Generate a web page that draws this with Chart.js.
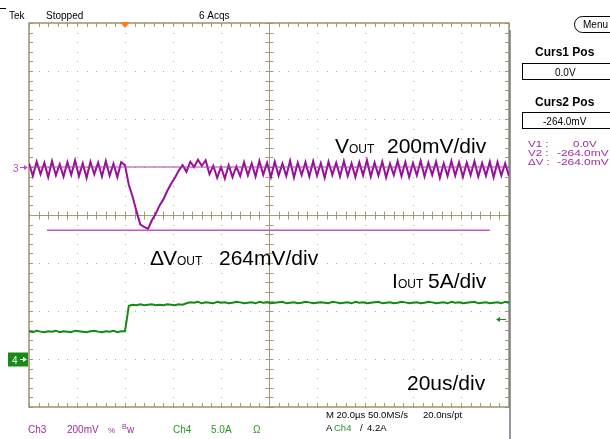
<!DOCTYPE html>
<html>
<head>
<meta charset="utf-8">
<script src="https://cdn.jsdelivr.net/npm/chart.js@4.4.1/dist/chart.umd.min.js"></script>
<style>
html,body{margin:0;padding:0;background:#fff;}
canvas{display:block;}
</style>
</head>
<body>
<canvas id="myChart" width="610" height="439"></canvas>
<script>
// sample clock (us): first sample and sample period
const t0 = -40;
const dt = 1.6;

// Ch3 : Vout (mV), 200mV/div
const vout = [
  15,-38,22,-30,18,-42,25,-35,12,-40,20,-33,28,-38,15,-45,22,-30,18,-40,25,-36,14,-42,20,
  8,
  -75,-125,-185,-240,-250,-258,-222,-195,-160,-135,-100,-70,-45,-15,8,-20,22,0,30,5,28,-30,
  5,-45,0,-48,8,-42,2,
  -38,20,-35,15,-40,25,-32,18,-42,22,-36,14,-38,26,-44,18,-34,20,-40,24,
  -36,16,-45,22,-33,18,-40,25,-38,15,-42,20,-35,28,-40,18,-36,22,-44,14,
  -34,24,-38,20,-42,16,-35,26,-40,18,-33,22,-45,15,-38,25,-36,20,-42,18,
  -34,24,-40,16,-37,22,-43,20,-36,15,-38
];

// Ch4 : Iout (A), 5A/div
const iout = [
  2.9,2.8,2.95,2.85,2.8,2.9,2.85,2.95,2.8,2.9,2.85,2.8,2.95,2.9,2.85,2.8,2.9,2.95,2.85,2.8,2.9,2.85,2.95,2.8,2.9,
  2.9,
  5.55,5.65,5.6,5.7,5.6,5.65,5.7,5.6,5.65,5.6,5.7,5.65,5.6,5.7,5.65,
  5.8,5.9,5.85,5.95,5.8,5.9,5.85,5.8,5.95,5.85,5.9,5.8,5.85,5.95,5.9,5.8,5.85,5.9,5.8,5.95,
  5.85,5.9,5.8,5.85,5.9,5.95,5.8,5.85,5.9,5.8,5.85,5.95,5.9,5.8,5.85,5.9,5.85,5.8,5.95,5.9,
  5.8,5.85,5.9,5.8,5.95,5.85,5.9,5.8,5.85,5.9,5.95,5.8,5.85,5.9,5.8,5.85,5.95,5.9,5.8,5.85,
  5.9,5.8,5.85,5.95,5.9,5.8,5.85,5.9,5.8,5.95,5.85,5.9,5.8,5.85,5.9,5.95,5.8,5.85,5.9,5.8,
  5.85,5.9,5.8,5.95,5.85
];

// cursors (mV) and their horizontal extent (us)
const cursLevels = [0, -264];
const curs1Span = [-40, 160];
const curs2Span = [-32.5, 152];

// trigger level (A)
const trigLevel = 4.2;

// axis ranges: 10 x 20us, 8 x 200mV, 8 x 5A
const xRange = [-40, 160];
const ch3Range = [-1000, 600];
const ch4Range = [-5, 35];

const F = '"Liberation Sans", Arial, sans-serif';
const PURPLE = '#a02aa0';
const GREEN = '#2a962a';

function txt(ctx, s, px, py, font, color, sx) {
  ctx.save();
  ctx.font = font;
  ctx.fillStyle = color;
  ctx.translate(px, py);
  ctx.scale(sx || 1, 1);
  ctx.fillText(s, 0, 0);
  ctx.restore();
}

const scopeGrid = {
  id: 'scopeGrid',
  beforeDatasetsDraw(chart) {
    const {ctx, chartArea: a, scales: {x, y3}} = chart;
    ctx.save();
    // dotted graticule
    ctx.fillStyle = '#b5ad8a';
    for (let t = -20; t < 160; t += 20) {
      if (t === 60) continue;
      const px = Math.round(x.getPixelForValue(t));
      for (let v = -1000; v <= 600; v += 40) {
        ctx.fillRect(px, Math.round(y3.getPixelForValue(v)), 1, 1);
      }
    }
    for (let v = -800; v < 600; v += 200) {
      if (v === -200) continue;
      const py = Math.round(y3.getPixelForValue(v));
      for (let t = -40; t <= 160; t += 4) {
        ctx.fillRect(Math.round(x.getPixelForValue(t)), py, 1, 1);
      }
    }
    // centre cross + edge ticks
    ctx.strokeStyle = '#a39b72';
    ctx.lineWidth = 1;
    const cx = Math.round(x.getPixelForValue(60)) + 0.5;
    const cy = Math.round(y3.getPixelForValue(-200)) + 0.5;
    ctx.beginPath();
    ctx.moveTo(cx, a.top); ctx.lineTo(cx, a.bottom);
    ctx.moveTo(a.left, cy); ctx.lineTo(a.right, cy);
    for (let t = -40; t <= 160; t += 4) {
      const px = Math.round(x.getPixelForValue(t)) + 0.5;
      ctx.moveTo(px, cy - 4); ctx.lineTo(px, cy + 4);
      ctx.moveTo(px, a.top); ctx.lineTo(px, a.top + 4);
      ctx.moveTo(px, a.bottom); ctx.lineTo(px, a.bottom - 4);
    }
    for (let v = -1000; v <= 600; v += 40) {
      const py = Math.round(y3.getPixelForValue(v)) + 0.5;
      ctx.moveTo(cx - 4, py); ctx.lineTo(cx + 4, py);
      ctx.moveTo(a.left, py); ctx.lineTo(a.left + 4, py);
      ctx.moveTo(a.right, py); ctx.lineTo(a.right - 4, py);
    }
    ctx.stroke();
    ctx.lineWidth = 1.5;
    ctx.strokeStyle = '#9b936a';
    ctx.strokeRect(a.left, a.top, a.width, a.height);
    // right frame of the screen
    ctx.strokeStyle = '#6f7780';
    ctx.beginPath();
    ctx.moveTo(a.right + 1, 30); ctx.lineTo(a.right + 1, 439);
    ctx.stroke();
    ctx.restore();
  },
  afterDraw(chart) {
    const {ctx, scales: {x, y3, y4}} = chart;
    ctx.save();
    ctx.textBaseline = 'alphabetic';
    // top status line
    ctx.fillStyle = '#000';
    ctx.fillRect(0, 8, 6, 1);
    txt(ctx, 'Tek', 9, 19, '10px ' + F, '#000');
    txt(ctx, 'Stopped', 46, 19, '10px ' + F, '#000');
    txt(ctx, '6 Acqs', 199, 19, '10px ' + F, '#000');
    // trigger position marker
    const tx = x.getPixelForValue(0);
    ctx.fillStyle = '#ff7a22';
    ctx.beginPath();
    ctx.moveTo(tx - 5, 22); ctx.lineTo(tx + 5, 22); ctx.lineTo(tx, 28); ctx.closePath();
    ctx.fill();

    // Ch3 ground marker
    const g3 = Math.round(y3.getPixelForValue(0)) + 0.5;
    txt(ctx, '3', 13, g3 + 4, '10px ' + F, '#c04ac0');
    ctx.strokeStyle = '#c04ac0'; ctx.fillStyle = '#c04ac0'; ctx.lineWidth = 1;
    ctx.beginPath(); ctx.moveTo(20, g3); ctx.lineTo(26, g3); ctx.stroke();
    ctx.beginPath(); ctx.moveTo(28, g3); ctx.lineTo(24, g3 - 2.5); ctx.lineTo(24, g3 + 2.5); ctx.closePath(); ctx.fill();

    // Ch4 ground marker
    const g4 = Math.round(y4.getPixelForValue(0)) + 0.5;
    ctx.fillStyle = '#178a17';
    ctx.fillRect(8, g4 - 7, 20, 14);
    txt(ctx, '4', 12, g4 + 4, '10px ' + F, '#fff');
    ctx.strokeStyle = '#fff'; ctx.fillStyle = '#fff';
    ctx.beginPath(); ctx.moveTo(20, g4); ctx.lineTo(25, g4); ctx.stroke();
    ctx.beginPath(); ctx.moveTo(27, g4); ctx.lineTo(23, g4 - 2.5); ctx.lineTo(23, g4 + 2.5); ctx.closePath(); ctx.fill();

    // trigger level arrow
    const tl = Math.round(y4.getPixelForValue(trigLevel)) + 0.5;
    ctx.strokeStyle = '#178a17'; ctx.fillStyle = '#178a17';
    ctx.beginPath(); ctx.moveTo(499, tl); ctx.lineTo(506, tl); ctx.stroke();
    ctx.beginPath(); ctx.moveTo(496, tl); ctx.lineTo(500, tl - 2.5); ctx.lineTo(500, tl + 2.5); ctx.closePath(); ctx.fill();

    // annotations
    const big = '21px ' + F, sub = '12px ' + F;
    txt(ctx, 'V', 335, 153, big, '#000');
    txt(ctx, 'OUT', 349, 153, sub, '#000');
    txt(ctx, '200mV/div', 387, 153, big, '#000');
    txt(ctx, '\u0394', 150, 265, big, '#000');
    txt(ctx, 'V', 163, 265, big, '#000');
    txt(ctx, 'OUT', 177, 265, sub, '#000');
    txt(ctx, '264mV/div', 219, 265, big, '#000');
    txt(ctx, 'I', 392, 288, big, '#000');
    txt(ctx, 'OUT', 398, 288, sub, '#000');
    txt(ctx, '5A/div', 428, 288, big, '#000');
    txt(ctx, '20us/div', 407, 390, big, '#000');

    // side menu
    ctx.strokeStyle = '#000'; ctx.lineWidth = 1;
    ctx.beginPath(); ctx.roundRect(574.5, 16.5, 44, 16, 8); ctx.stroke();
    txt(ctx, 'Menu', 583, 28, '10px ' + F, '#000');
    txt(ctx, 'Curs1 Pos', 535, 56, 'bold 12px ' + F, '#000');
    ctx.strokeRect(522.5, 63.5, 92, 16);
    txt(ctx, '0.0V', 555, 76, '10px ' + F, '#000');
    txt(ctx, 'Curs2 Pos', 535, 106, 'bold 12px ' + F, '#000');
    ctx.strokeRect(522.5, 112.5, 92, 16);
    txt(ctx, '-264.0mV', 543, 125, '10px ' + F, '#000');
    const sm = '8.5px ' + F;
    txt(ctx, 'V1 :', 528, 147, sm, PURPLE, 1.35);
    txt(ctx, '0.0V', 573, 147, sm, PURPLE, 1.35);
    txt(ctx, 'V2 :', 528, 156, sm, PURPLE, 1.35);
    txt(ctx, '-264.0mV', 557, 156, sm, PURPLE, 1.4);
    txt(ctx, '\u0394V :', 528, 165, sm, PURPLE, 1.35);
    txt(ctx, '-264.0mV', 557, 165, sm, PURPLE, 1.4);

    // bottom status
    const st = '10px ' + F;
    txt(ctx, 'Ch3', 28, 433, st, PURPLE);
    txt(ctx, '200mV', 67, 433, st, PURPLE);
    txt(ctx, '%', 108, 433, '8px ' + F, PURPLE);
    txt(ctx, 'B', 122, 429, '7px ' + F, PURPLE);
    txt(ctx, 'w', 127, 433, st, PURPLE);
    txt(ctx, 'Ch4', 173, 433, st, GREEN);
    txt(ctx, '5.0A', 211, 433, st, GREEN);
    txt(ctx, '\u03a9', 253, 433, st, GREEN);
    const st2 = '9.5px ' + F;
    txt(ctx, 'M 20.0\u00b5s 50.0MS/s', 326, 418, st2, '#000');
    txt(ctx, '20.0ns/pt', 423, 418, st2, '#000');
    txt(ctx, 'A', 326, 431, st2, '#000');
    txt(ctx, 'Ch4', 334, 431, st2, GREEN);
    txt(ctx, '/', 360, 431, st2, '#000');
    txt(ctx, '4.2A', 367, 431, st2, '#000');
    ctx.restore();
  }
};

const toPoints = (vals) => vals.map((v, i) => ({x: t0 + i * dt, y: v}));

const ctx = document.getElementById('myChart').getContext('2d');
const myChart = new Chart(ctx, {
  type: 'line',
  data: {
    datasets: [
      {
        label: 'Curs1',
        data: curs1Span.map(t => ({x: t, y: cursLevels[0]})),
        yAxisID: 'y3',
        borderColor: '#a040a0',
        borderWidth: 1,
        pointRadius: 0
      },
      {
        label: 'Curs2',
        data: curs2Span.map(t => ({x: t, y: cursLevels[1]})),
        yAxisID: 'y3',
        borderColor: '#c455c4',
        borderWidth: 1.5,
        pointRadius: 0
      },
      {
        label: 'Ch3',
        data: toPoints(vout),
        yAxisID: 'y3',
        borderColor: '#9a0f9a',
        borderWidth: 2,
        pointRadius: 0,
        tension: 0
      },
      {
        label: 'Ch4',
        data: toPoints(iout),
        yAxisID: 'y4',
        borderColor: '#138a13',
        borderWidth: 2,
        pointRadius: 0,
        tension: 0
      }
    ]
  },
  options: {
    responsive: false,
    animation: false,
    layout: { padding: { left: 29, right: 101, top: 23, bottom: 32 } },
    plugins: { legend: { display: false }, tooltip: { enabled: false } },
    scales: {
      x: { type: 'linear', min: xRange[0], max: xRange[1], display: false },
      y3: { type: 'linear', min: ch3Range[0], max: ch3Range[1], display: false },
      y4: { type: 'linear', min: ch4Range[0], max: ch4Range[1], display: false }
    }
  },
  plugins: [scopeGrid]
});
</script>
</body>
</html>
